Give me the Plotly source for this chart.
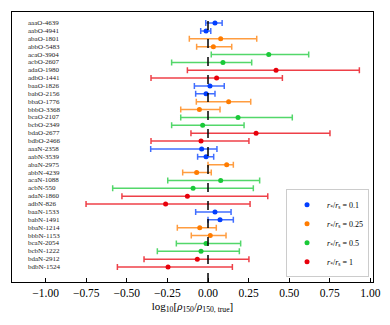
import plotly.graph_objects as go

labels = ["aaaO-4639", "aabO-4941", "abaO-1801", "abbO-5483", "acaO-3904", "acbO-2607",
          "adaO-1980", "adbO-1441", "baaO-1826", "babO-2156", "bbaO-1776", "bbbO-3368",
          "bcaO-2107", "bcbO-2349", "bdaO-2677", "bdbO-2466", "aaaN-2358", "aabN-3539",
          "abaN-2975", "abbN-4239", "acaN-1088", "acbN-550", "adaN-1860", "adbN-826",
          "baaN-1533", "babN-1491", "bbaN-1214", "bbbN-1153", "bcaN-2054", "bcbN-1222",
          "bdaN-2912", "bdbN-1524"]
median = [0.043, -0.012, 0.078, 0.033, 0.374, 0.092, 0.419, 0.053,
          0.012, -0.012, 0.127, -0.053, 0.185, -0.033, 0.296, -0.043,
          -0.039, -0.012, 0.115, -0.070, 0.078, -0.092, -0.127, -0.261,
          0.043, 0.074, -0.051, 0.014, -0.012, -0.043, -0.066, -0.246]
lower = [-0.014, -0.045, -0.115, -0.070, 0.020, -0.224, -0.127, -0.351,
         -0.084, -0.076, -0.072, -0.168, -0.168, -0.224, -0.105, -0.351,
         -0.353, -0.064, 0.000, -0.156, -0.248, -0.587, -0.530, -0.751,
         -0.076, 0.000, -0.189, -0.103, -0.195, -0.312, -0.394, -0.558]
upper = [0.087, 0.017, 0.300, 0.146, 0.620, 0.269, 0.932, 0.458,
         0.100, 0.043, 0.263, 0.074, 0.519, 0.222, 0.751, 0.252,
         0.055, 0.035, 0.156, 0.020, 0.318, 0.279, 0.368, 0.259,
         0.142, 0.156, 0.051, 0.111, 0.201, 0.193, 0.252, 0.150]
ratio_codes = ["a", "b", "c", "d"]
ratio_names = ["0.1", "0.25", "0.5", "1"]
colors = ["#023eff", "#ff7c00", "#1ac938", "#e8000b"]
err_colors = ["rgba(2,62,255,0.75)", "rgba(255,124,0,0.75)", "rgba(26,201,56,0.75)", "rgba(232,0,11,0.75)"]
x_ticks = [-1.0, -0.75, -0.5, -0.25, 0.0, 0.25, 0.5, 0.75, 1.0]

fig = go.Figure()
for code, name, col, ecol in zip(ratio_codes, ratio_names, colors, err_colors):
    idx = [i for i, lab in enumerate(labels) if lab[1] == code]
    xs = [median[i] for i in idx]
    fig.add_trace(go.Scatter(
        x=xs, y=idx, mode="markers",
        marker=dict(color=col, size=5),
        error_x=dict(type="data",
                     array=[upper[i] - median[i] for i in idx],
                     arrayminus=[median[i] - lower[i] for i in idx],
                     color=ecol, thickness=1.5, width=3),
        name=f"<i>r</i><sub>*</sub>/<i>r</i><sub>s</sub> = {name}",
    ))

fig.add_vline(x=0, line=dict(color="black", width=1.5, dash="dash"))

for i, lab in enumerate(labels):
    fig.add_annotation(x=0.039, xref="paper", y=i, yref="y", text=lab,
                       showarrow=False, xanchor="left", yanchor="middle",
                       font=dict(size=7, family="Liberation Serif", color="#222"))

fig.update_layout(
    width=390, height=325,
    margin=dict(l=12, r=17, t=12, b=43),
    paper_bgcolor="white", plot_bgcolor="white",
    font=dict(family="Liberation Serif", size=11, color="black"),
    showlegend=True,
    legend=dict(x=0.989, y=0.018, xanchor="right", yanchor="bottom",
                bgcolor="white", bordercolor="#cccccc", borderwidth=1,
                font=dict(size=8), tracegroupgap=0, itemwidth=30),
    xaxis=dict(range=[-1.207, 1.016], tickvals=x_ticks,
               ticktext=[f"{v:.2f}".replace("-", "\u2212") for v in x_ticks],
               ticks="inside", ticklen=4, tickwidth=1, tickcolor="black",
               showline=True, linecolor="black", linewidth=1.2, mirror=True,
               showgrid=False, zeroline=False, automargin=False,
               tickfont=dict(size=11.5),
               title=dict(text="log<sub>10</sub>[<i>ρ</i><sub>150</sub>/<i>ρ</i><sub>150, true</sub>]",
                          font=dict(size=11), standoff=4)),
    yaxis=dict(range=[32.9, -1.4], showticklabels=False, ticks="",
               showline=True, linecolor="black", linewidth=1.2, mirror=True,
               showgrid=False, zeroline=False, automargin=False),
)

fig.write_html("out.html", config={"displayModeBar": False},
               post_script="document.body.style.margin='0';")
